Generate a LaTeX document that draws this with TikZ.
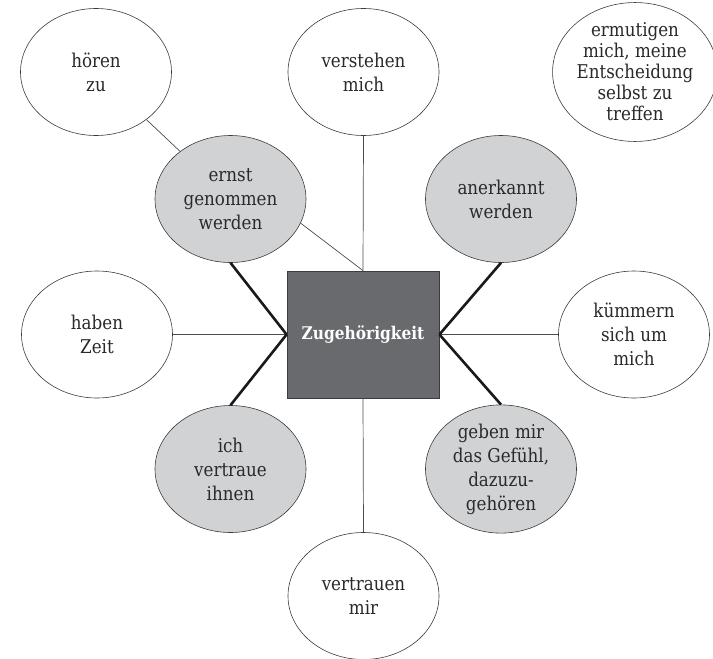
\documentclass[tikz,border=0pt]{standalone}
\usepackage{fontspec}
\setmainfont{DejaVu Serif}[FakeStretch=0.88]
\usetikzlibrary{shapes.geometric}
\definecolor{bubblegray}{HTML}{D1D2D4}
\definecolor{boxgray}{HTML}{696A6E}
\definecolor{edgegray}{HTML}{3C3C3C}
\definecolor{textgray}{HTML}{2A2A2A}
\begin{document}
\begin{tikzpicture}[x=1pt,y=-1pt,
  bubble/.style={ellipse,draw=edgegray,line width=0.6pt,fill=white,
    minimum width=151pt,minimum height=127pt,inner sep=0pt,align=center,
    text=textgray,font=\fontsize{19}{24}\selectfont},
  graybubble/.style={bubble,fill=bubblegray},
  centerbox/.style={rectangle,draw=edgegray,line width=0.8pt,fill=boxgray,
    minimum width=152pt,minimum height=127pt,inner sep=0pt,text=white,
    font=\fontsize{17.5}{22}\selectfont\bfseries},
  thinline/.style={draw=black!70,line width=0.7pt},
  thickline/.style={draw=black!90,line width=2.6pt}]
\useasboundingbox (0,0) rectangle (713,659);

\node[centerbox] (zug) at (363,334.5) {Zugeh\"origkeit};

\node[bubble] (hoeren) at (96,72) {h\"oren\\zu};
\node[bubble] (verstehen) at (363.5,72) {verstehen\\mich};
\node[bubble,font=\fontsize{19}{21}\selectfont] (ermutigen) at (635,72)
  {ermutigen\\mich, meine\\Entscheidung\\selbst zu\\treffen};
\node[graybubble] (ernst) at (230.5,199) {ernst\\genommen\\werden};
\node[graybubble] (anerkannt) at (501,199) {anerkannt\\werden};
\node[bubble] (haben) at (97,334.5) {haben\\Zeit};
\node[bubble] (kuemmern) at (634,334.5) {k\"ummern\\sich um\\mich};
\node[graybubble] (ich) at (230.5,469) {ich\\vertraue\\ihnen};
\node[graybubble] (geben) at (501,469) {geben mir\\das Gef\"uhl,\\dazuzu-\\geh\"oren};
\node[bubble] (vertrauen) at (363.5,596) {vertrauen\\mir};

\draw[thinline] (hoeren) -- (ernst);
\draw[thinline] (ernst.-19) -- (zug.north);
\draw[thinline] (verstehen.south) -- (zug.north);
\draw[thinline] (haben.east) -- (zug.west);
\draw[thinline] (kuemmern.west) -- (zug.east);
\draw[thinline] (vertrauen.north) -- (zug.south);
\draw[thickline] (ernst.south) -- (zug.west);
\draw[thickline] (ich.north) -- (zug.west);
\draw[thickline] (anerkannt.south) -- (zug.east);
\draw[thickline] (geben.north) -- (zug.east);
\end{tikzpicture}
\end{document}
